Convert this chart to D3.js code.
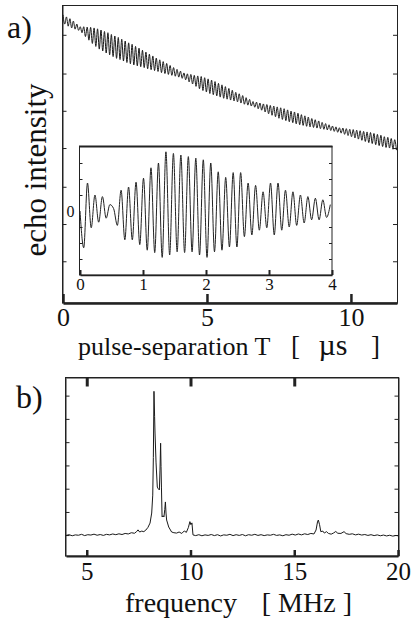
<!DOCTYPE html>
<html>
<head>
<meta charset="utf-8">
<script src="https://cdn.jsdelivr.net/npm/d3@7"></script>
<style>
  body { margin: 0; background: #fff; }
  .axis path, .axis line { stroke: #222; }
</style>
</head>
<body>
<div id="container"></div>
<script>
const serif = '"Liberation Serif", "Times New Roman", serif'

// echo intensity vs pulse separation, alternating maxima/minima every half period
const echoStep = 0.06 // µs
const echo = [
  96.7, 93.6, 96.0, 92.9, 95.4, 92.3, 94.6, 91.9, 93.6, 91.5,
  92.7, 90.7, 92.7, 89.4, 92.6, 88.2, 92.5, 87.1, 92.3, 86.1,
  92.0, 85.2, 91.6, 84.6, 91.1, 83.9, 90.7, 83.3, 90.1, 82.7,
  89.6, 82.1, 89.1, 81.7, 88.5, 81.2, 87.9, 80.7, 87.3, 80.3,
  86.8, 79.9, 86.1, 79.6, 85.5, 79.3, 84.8, 79.0, 84.2, 78.6,
  83.5, 78.3, 82.9, 78.0, 82.2, 77.7, 81.6, 77.3, 81.0, 77.0,
  80.4, 76.7, 79.7, 76.4, 79.0, 76.1, 78.4, 75.8, 77.8, 75.4,
  77.2, 74.9, 76.9, 74.2, 76.7, 73.5, 76.4, 72.7, 76.2, 71.9,
  76.0, 71.3, 75.6, 70.8, 75.2, 70.3, 74.8, 69.9, 74.3, 69.5,
  73.7, 69.1, 73.2, 68.7, 72.6, 68.4, 72.0, 68.1, 71.4, 67.8,
  70.7, 67.5, 70.2, 67.1, 69.6, 66.7, 68.9, 66.4, 68.3, 66.1,
  67.6, 65.7, 67.4, 65.2, 67.1, 64.7, 66.8, 64.1, 66.6, 63.5,
  66.3, 63.0, 66.1, 62.5, 65.8, 62.0, 65.5, 61.6, 65.2, 61.2,
  64.8, 60.8, 64.4, 60.5, 64.1, 60.1, 63.7, 59.8, 63.2, 59.6,
  62.8, 59.3, 62.4, 59.1, 61.9, 58.9, 61.5, 58.7, 61.1, 58.5,
  60.6, 58.3, 60.2, 58.1, 59.8, 57.9, 59.4, 57.6, 59.1, 57.3,
  58.8, 57.0, 58.7, 56.6, 58.5, 56.2, 58.3, 55.8, 58.2, 55.4,
  58.0, 55.0, 57.8, 54.6, 57.6, 54.2, 57.4, 53.8, 57.2, 53.5,
  56.9, 53.1, 56.6, 52.8, 56.3, 52.5, 55.8, 52.2, 55.6, 52.0,
  55.2, 51.6, 54.8, 51.3
]
const echoTicksY = [14, 26.5, 39, 52, 64.5, 77, 90]
const echoTicksX = [0, 5, 10]

// inset: oscillating part of the echo for the first 4 µs
const insetStep = 0.0593 // µs
const inset = [
  0, -2.3, 1.75, -1.05, 1.0, -0.7, 0.9, -0.45, 0.4, 0.15,
  -0.9, 1.3, -1.8, 1.5, -1.8, 1.8, -2.1, 2.05, -2.45, 2.7,
  -2.6, 3.0, -2.9, 3.7, -2.75, 3.6, -2.55, 3.5, -2.6, 3.4,
  -2.55, 3.3, -2.75, 3.2, -2.9, 3.0, -2.55, 2.45, -2.45, 2.1,
  -2.25, 2.4, -2.25, 2.4, -1.6, 1.75, -1.5, 1.6, -1.2, 1.2,
  -1.05, 1.75, -1.5, 1.75, -1.2, 1.3, -1.0, 1.2, -0.9, 1.0,
  -0.75, 0.9, -0.55, 0.8, -0.55, 0.7, -0.4, 0.4
]
const insetTicksX = [0, 1, 2, 3, 4]
const insetTicksY = [-3, -2, -1, 1, 2, 3]

// fourier spectrum [frequency MHz, amplitude]
const spectrum = [
  [4.00, 11.5], [4.15, 11.9], [4.30, 11.3], [4.45, 11.8], [4.60, 11.6], [4.75, 12.1],
  [4.90, 11.4], [5.05, 11.9], [5.20, 11.7], [5.35, 12.2], [5.50, 11.6], [5.65, 12.0],
  [5.80, 11.5], [5.95, 12.1], [6.10, 11.8], [6.25, 12.3], [6.40, 11.9], [6.55, 12.4],
  [6.70, 12.0], [6.85, 12.6], [7.00, 12.3], [7.15, 13.0], [7.30, 12.7], [7.40, 13.6],
  [7.47, 14.6], [7.55, 13.4], [7.65, 13.9], [7.75, 13.6], [7.85, 14.5], [7.95, 16.0],
  [8.05, 18.4], [8.13, 24], [8.18, 34], [8.21, 55], [8.24, 92], [8.27, 78],
  [8.29, 68.7], [8.34, 52], [8.40, 38.5], [8.45, 37.5], [8.50, 36.9], [8.53, 48],
  [8.56, 63], [8.58, 50], [8.60, 38.5], [8.63, 21.8], [8.68, 22.5], [8.72, 21.8],
  [8.76, 26], [8.79, 30.2], [8.82, 24], [8.85, 20.1], [8.95, 16.2], [9.09, 13.4],
  [9.20, 13.0], [9.33, 12.8], [9.45, 13.4], [9.58, 12.6], [9.70, 14.0], [9.80, 13.2],
  [9.90, 16], [9.97, 19.2], [10.02, 17.5], [10.07, 18.5], [10.12, 11.8], [10.25, 11.4],
  [10.40, 11.9], [10.55, 11.3], [10.70, 11.8], [10.85, 11.5], [11.00, 12.0], [11.15, 11.4],
  [11.30, 11.9], [11.45, 11.2], [11.60, 11.8], [11.75, 11.6], [11.90, 12.1], [12.05, 11.4],
  [12.20, 11.9], [12.35, 11.5], [12.50, 12.0], [12.65, 11.3], [12.80, 11.9], [12.95, 11.6],
  [13.10, 12.1], [13.25, 11.5], [13.40, 11.9], [13.55, 11.4], [13.70, 11.8], [13.85, 11.6],
  [14.00, 12.1], [14.15, 11.5], [14.30, 11.8], [14.45, 11.3], [14.60, 11.9], [14.75, 11.6],
  [14.90, 12.2], [15.05, 11.7], [15.20, 12.3], [15.35, 11.8], [15.50, 12.4], [15.65, 12.0],
  [15.80, 12.6], [15.95, 12.3], [16.05, 14.5], [16.12, 19.0], [16.16, 20.1], [16.22, 17.5],
  [16.28, 13.6], [16.38, 13.9], [16.45, 12.8], [16.55, 13.6], [16.65, 12.6], [16.78, 12.2],
  [16.90, 12.9], [17.00, 13.7], [17.10, 12.7], [17.25, 12.6], [17.40, 13.6], [17.50, 12.5],
  [17.65, 12.1], [17.80, 12.4], [17.95, 11.8], [18.10, 12.2], [18.25, 11.7], [18.40, 12.0],
  [18.55, 11.5], [18.70, 11.9], [18.85, 11.4], [19.00, 11.8], [19.15, 11.3], [19.30, 11.7],
  [19.45, 11.2], [19.60, 11.6], [19.75, 11.1], [19.90, 11.5], [20.00, 11.3]
]
const specTicksX = [5, 10, 15, 20]
const specTicksY = [11.7, 24.6, 37.6, 50.6, 63.6, 76.6, 89.6]

const svg = d3.select("#container").append("svg")
  .attr("width", 411)
  .attr("height", 626)

// little helper so every text gets the serif face
function label(x, y, size, str, anchor) {
  return svg.append("text")
    .attr("x", x).attr("y", y)
    .attr("font-family", serif).attr("font-size", size)
    .attr("fill", "#111")
    .attr("text-anchor", anchor || "start")
    .style("white-space", "pre")
    .text(str)
}
function styleTicks(g, size) {
  g.attr("font-family", serif)
  g.selectAll("text").attr("font-family", serif).attr("font-size", size).attr("fill", "#111")
}

// ---------- panel a ----------
const xA = d3.scaleLinear().domain([0, 11.6]).range([63, 397])
const yA = d3.scaleLinear().domain([0, 100]).range([303, 5])

svg.append("rect")
  .attr("x", 62.5).attr("y", 5.5)
  .attr("width", 335).attr("height", 297.5)
  .attr("fill", "none").attr("stroke", "#222").attr("stroke-width", 1)

svg.append("g").attr("class", "axis")
  .attr("transform", "translate(62.5,0)")
  .call(d3.axisLeft(yA).tickValues(echoTicksY).tickSize(-4).tickSizeOuter(0).tickFormat(""))
svg.append("g").attr("class", "axis")
  .attr("transform", "translate(397,0)")
  .call(d3.axisRight(yA).tickValues(echoTicksY).tickSize(-4).tickSizeOuter(0).tickFormat(""))

const axA = svg.append("g").attr("class", "axis")
  .attr("transform", "translate(0,303)")
  .call(d3.axisBottom(xA).tickValues(echoTicksX).tickSize(-9).tickSizeOuter(0).tickPadding(5)
    .tickFormat(d3.format("d")))
axA.select(".domain").attr("stroke-width", 2.5)
axA.selectAll(".tick line").attr("stroke-width", 2.5)
styleTicks(axA, 26)

svg.append("path")
  .datum(echo)
  .attr("fill", "none").attr("stroke", "#1a1a1a").attr("stroke-width", 1)
  .attr("d", d3.line()
    .x((d, i) => xA(i * echoStep))
    .y(d => yA(d))
    .curve(d3.curveMonotoneX))

// inset
const xI = d3.scaleLinear().domain([0, 4]).range([80, 332])
const yI = d3.scaleLinear().domain([-4, 4]).range([275, 147])

svg.append("rect")
  .attr("x", 79.5).attr("y", 146.5)
  .attr("width", 252.5).attr("height", 128.5)
  .attr("fill", "#fff").attr("stroke", "#222").attr("stroke-width", 1)
svg.append("line")
  .attr("x1", 79).attr("x2", 332.5).attr("y1", 146.5).attr("y2", 146.5)
  .attr("stroke", "#222").attr("stroke-width", 2)

svg.append("g").attr("class", "axis")
  .attr("transform", "translate(79.5,0)")
  .call(d3.axisLeft(yI).tickValues(insetTicksY).tickSize(-3).tickSizeOuter(0).tickFormat(""))
  .call(g => g.select(".domain").remove())
svg.append("g").attr("class", "axis")
  .attr("transform", "translate(332,0)")
  .call(d3.axisRight(yI).tickValues(insetTicksY).tickSize(-3).tickSizeOuter(0).tickFormat(""))
  .call(g => g.select(".domain").remove())
const zeroI = svg.append("g").attr("class", "axis")
  .attr("transform", "translate(79.5,0)")
  .call(d3.axisLeft(yI).tickValues([0]).tickSize(0).tickPadding(5).tickFormat(d3.format("d")))
  .call(g => g.select(".domain").remove())
styleTicks(zeroI, 16)

const axI = svg.append("g").attr("class", "axis")
  .attr("transform", "translate(0,275)")
  .call(d3.axisBottom(xI).tickValues(insetTicksX).tickSize(-5).tickSizeOuter(0).tickPadding(3)
    .tickFormat(d3.format("d")))
axI.select(".domain").attr("stroke-width", 1.5)
axI.selectAll(".tick line").attr("stroke-width", 2)
styleTicks(axI, 17)

svg.append("path")
  .datum(inset)
  .attr("fill", "none").attr("stroke", "#222").attr("stroke-width", 1)
  .attr("d", d3.line()
    .x((d, i) => xI(i * insetStep))
    .y(d => yI(d))
    .curve(d3.curveMonotoneX))

label(7, 38, 32, "a)")
svg.append("text")
  .attr("transform", "translate(46,170) rotate(-90)")
  .attr("font-family", serif).attr("fill", "#111")
  .attr("text-anchor", "middle").attr("font-size", 31)
  .text("echo intensity")
label(78, 355, 26, "pulse-separation T")
label(291, 355, 27, "[")
label(333, 355, 30, "µs", "middle")
label(380, 355, 27, "]", "end")

// ---------- panel b ----------
const xB = d3.scaleLinear().domain([4, 20]).range([66, 398])
const yB = d3.scaleLinear().domain([0, 100]).range([556, 377])

svg.append("rect")
  .attr("x", 65.5).attr("y", 377.5)
  .attr("width", 333).attr("height", 178.5)
  .attr("fill", "none").attr("stroke", "#222").attr("stroke-width", 1)

svg.append("g").attr("class", "axis")
  .attr("transform", "translate(65.5,0)")
  .call(d3.axisLeft(yB).tickValues(specTicksY).tickSize(-4).tickSizeOuter(0).tickFormat(""))
svg.append("g").attr("class", "axis")
  .attr("transform", "translate(398.5,0)")
  .call(d3.axisRight(yB).tickValues(specTicksY).tickSize(-4).tickSizeOuter(0).tickFormat(""))

svg.append("g").attr("class", "axis")
  .attr("transform", "translate(0,377.5)")
  .call(d3.axisTop(xB).tickValues([5, 10, 15]).tickSize(-9).tickSizeOuter(0).tickFormat(""))
  .call(g => g.selectAll(".tick line").attr("stroke-width", 3))

const axB = svg.append("g").attr("class", "axis")
  .attr("transform", "translate(0,556)")
  .call(d3.axisBottom(xB).tickValues(specTicksX).tickSize(-6).tickSizeOuter(0).tickPadding(6)
    .tickFormat(d3.format("d")))
axB.select(".domain").attr("stroke-width", 2)
axB.selectAll(".tick line").attr("stroke-width", 2.5)
styleTicks(axB, 25)

svg.append("path")
  .datum(spectrum)
  .attr("fill", "none").attr("stroke", "#1a1a1a").attr("stroke-width", 1)
  .attr("d", d3.line()
    .x(d => xB(d[0]))
    .y(d => yB(d[1])))

label(16, 408, 32, "b)")
label(125, 612, 28, "frequency")
label(352, 612, 28, "[ MHz ]", "end")
</script>
</body>
</html>
